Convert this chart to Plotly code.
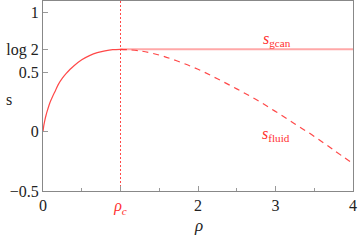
import plotly.graph_objects as go

# rising branch (rho < rho_c)
rho_rise = [0, 0.01, 0.02, 0.04, 0.06, 0.09, 0.12, 0.16, 0.2, 0.25, 0.3, 0.35, 0.4, 0.5, 0.6, 0.7, 0.8, 0.9, 1.0]
s_rise = [0, 0.05, 0.085, 0.14, 0.185, 0.245, 0.29, 0.345, 0.40, 0.45, 0.49, 0.525, 0.555, 0.605, 0.64, 0.665, 0.68, 0.69, 0.693]

# fluid branch (dashed, rho > rho_c)
rho_fluid = [1.0, 1.25, 1.5, 1.75, 2.0, 2.25, 2.5, 2.75, 3.0, 3.25, 3.5, 3.75, 4.0]
s_fluid = [0.693, 0.68, 0.645, 0.59, 0.525, 0.445, 0.36, 0.27, 0.17, 0.065, -0.04, -0.155, -0.27]

# grand canonical plateau
rho_gcan = [1.0, 4.0]
s_gcan = [0.693, 0.693]

rho_c = 1.0
x_range = [0, 4]
y_range = [-0.5, 1.1]

x_ticks = [0, 1, 2, 3, 4]
x_ticktext = ["0", "<span style='color:#ff3030'><i>ρ</i><sub><i>c</i></sub></span>", "2", "3", "4"]
y_ticks = [-0.5, 0, 0.5, 0.693, 1]
y_ticktext = ["−0.5", "0", "0.5", "log 2", "1"]

RED = "rgba(255,40,40,0.85)"
PALE = "rgba(255,110,110,0.6)"
FONT = "Liberation Serif"

fig = go.Figure()
fig.add_trace(go.Scatter(x=[rho_c, rho_c], y=y_range, mode="lines",
                         line=dict(color=RED, width=1, dash="2px,2px"), hoverinfo="skip"))
fig.add_trace(go.Scatter(x=rho_gcan, y=s_gcan, mode="lines",
                         line=dict(color=PALE, width=2)))
fig.add_trace(go.Scatter(x=rho_rise, y=s_rise, mode="lines", line_shape="spline",
                         line=dict(color=RED, width=1.2)))
fig.add_trace(go.Scatter(x=rho_fluid, y=s_fluid, mode="lines", line_shape="spline",
                         line=dict(color=RED, width=1.2, dash="6px,5px")))

fig.add_annotation(x=3.02, y=0.78, xref="x", yref="y", showarrow=False,
                   text="<i>s</i><sub>gcan</sub>", font=dict(family=FONT, size=16, color="#ff3030"))
fig.add_annotation(x=3.0, y=-0.02, xref="x", yref="y", showarrow=False,
                   text="<i>s</i><sub>fluid</sub>", font=dict(family=FONT, size=16, color="#ff3030"))
fig.add_annotation(x=-0.125, y=0.48, xref="paper", yref="paper", showarrow=False,
                   text="s", font=dict(family=FONT, size=16, color="#222"))
fig.add_annotation(x=0.5, y=-0.184, xref="paper", yref="paper", showarrow=False,
                   yanchor="middle", text="<i>ρ</i>", font=dict(family=FONT, size=17, color="#222"))

axis_common = dict(showline=True, linecolor="#888", linewidth=1, mirror=True,
                   showgrid=False, zeroline=False, ticks="inside", ticklen=5,
                   tickcolor="#999", automargin=False,
                   tickfont=dict(family=FONT, size=16, color="#222"))

fig.update_xaxes(range=x_range, tickvals=x_ticks, ticktext=x_ticktext,
                 minor=dict(tickvals=[0.5, 1.5, 2.5, 3.5], ticks="inside", ticklen=3, tickcolor="#999"),
                 **axis_common)
fig.update_yaxes(range=y_range, tickvals=y_ticks, ticktext=y_ticktext, **axis_common)

fig.update_layout(width=358, height=240, margin=dict(l=43, r=5, t=1, b=49),
                  plot_bgcolor="white", paper_bgcolor="white", showlegend=False,
                  font=dict(family=FONT))
fig.write_html("out.html", config={"displayModeBar": False},
               post_script="document.body.style.margin='0px';document.body.style.overflow='hidden';")
